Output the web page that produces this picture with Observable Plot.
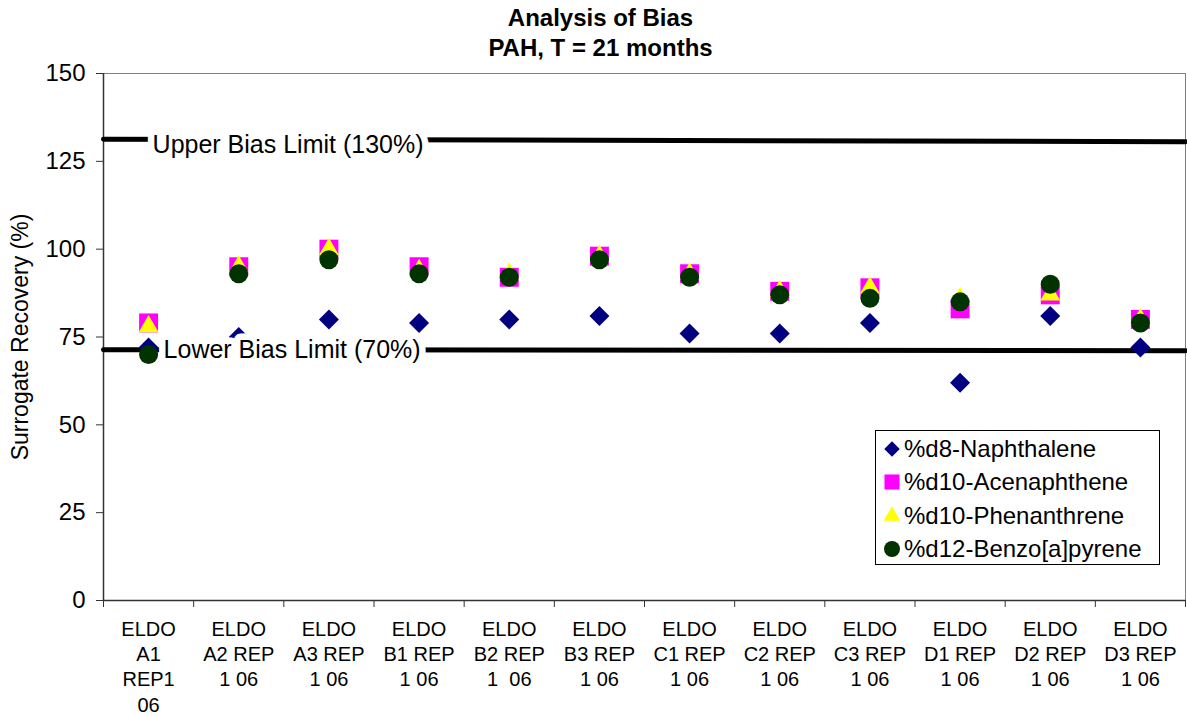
<!DOCTYPE html>
<html>
<head>
<meta charset="utf-8">
<script src="https://cdn.jsdelivr.net/npm/d3@7"></script>
<script src="https://cdn.jsdelivr.net/npm/@observablehq/plot@0.6"></script>
<style>
  html, body { margin: 0; padding: 0; background: #fff; }
  #wrap { position: relative; width: 1187px; height: 717px; font-family: "Liberation Sans", Arial, sans-serif; }
  #legend { position: absolute; left: 875px; top: 430px; width: 283px; height: 133px; border: 1px solid #000; background: #fff; box-sizing: content-box; }
  .item { position: absolute; left: 0; height: 33px; display: flex; align-items: center; font-size: 24px; color: #000; white-space: nowrap; }
  .item svg { margin-left: 6px; margin-right: 2px; }
</style>
</head>
<body>
<div id="wrap"></div>
<script>
// ---- data ----
const categories = [
  "ELDO\nA1\nREP1\n06", "ELDO\nA2 REP\n1 06", "ELDO\nA3 REP\n1 06", "ELDO\nB1 REP\n1 06",
  "ELDO\nB2 REP\n1 \u00a006", "ELDO\nB3 REP\n1 06", "ELDO\nC1 REP\n1 06", "ELDO\nC2 REP\n1 06",
  "ELDO\nC3 REP\n1 06", "ELDO\nD1 REP\n1 06", "ELDO\nD2 REP\n1 06", "ELDO\nD3 REP\n1 06"
];
const seriesNames = ["%d8-Naphthalene", "%d10-Acenaphthene", "%d10-Phenanthrene", "%d12-Benzo[a]pyrene"];
const naphthalene  = [72, 75, 80, 79, 80, 81, 76, 76, 79, 62, 81, 72];
const acenaphthene = [79, 95, 100, 95, 92, 98, 93, 88, 89, 83, 87, 80];
const phenanthrene = [78, 95, 100, 94, 93, 98, 93, 88, 89, 86, 87, 80];
const benzopyrene  = [70, 93, 97, 93, 92, 97, 92, 87, 86, 85, 90, 79];
const yTicks = [0, 25, 50, 75, 100, 125, 150];
const upperLimitLine = [131.3, 130.6];   // drawn limit line, left and right ends
const lowerLimitLine = [71.4, 71.1];
const limitLabels = ["Upper Bias Limit (130%)", "Lower Bias Limit (70%)"];
const titleLines = ["Analysis of Bias", "PAH, T = 21 months"];
const yLabel = "Surrogate Recovery (%)";

// ---- styling ----
const seriesSymbols = ["diamond2", "square", "triangle", "circle"];
const seriesColors = ["#000080", "#ff00ff", "#ffff00", "#003300"];
const seriesR = [9, 10.7, 7.4, 9.5];

const values = [naphthalene, acenaphthene, phenanthrene, benzopyrene];
const n = categories.length;
const catIdx = d3.range(n);
const boundaries = d3.range(n + 1).map(i => i - 0.5);
const upperRows = [{x: -0.5, y: upperLimitLine[0]}, {x: n - 0.5, y: upperLimitLine[1]}];
const lowerRows = [{x: -0.5, y: lowerLimitLine[0]}, {x: n - 0.5, y: lowerLimitLine[1]}];

const dotMarks = values.map((vals, k) =>
  Plot.dot(catIdx, {
    x: i => i, y: i => vals[i],
    symbol: seriesSymbols[k], r: seriesR[k],
    fill: seriesColors[k], stroke: "none"
  })
);

const chart = Plot.plot({
  width: 1187, height: 717,
  marginTop: 73, marginBottom: 117, marginLeft: 103, marginRight: 2,
  style: { fontFamily: "Liberation Sans, Arial, sans-serif", background: "#fff", color: "#000" },
  x: { domain: [-0.5, n - 0.5] },
  y: { domain: [0, 150] },
  marks: [
    Plot.frame({ stroke: "#808080" }),
    Plot.axisY({ ticks: yTicks, tickSize: 7, tickPadding: 11, fontSize: 24, label: null, stroke: "#333" }),
    Plot.axisX({ ticks: boundaries, tickSize: 7, tickFormat: () => "", label: null, stroke: "#333" }),
    Plot.ruleX([-0.5], { stroke: "#333", strokeWidth: 1.5 }),
    Plot.ruleY([0], { stroke: "#333", strokeWidth: 1.5 }),
    // x category labels
    Plot.text(catIdx, {
      x: i => i, text: i => categories[i], frameAnchor: "bottom",
      lineAnchor: "top", dy: 17, fontSize: 20, lineHeight: 1.27, fill: "#000"
    }),
    // limit lines
    Plot.line(upperRows, { x: "x", y: "y", stroke: "#000", strokeWidth: 5 }),
    Plot.line(lowerRows, { x: "x", y: "y", stroke: "#000", strokeWidth: 5 }),
    ...dotMarks,
    Plot.text([limitLabels[0]], {
      x: 0, y: upperLimitLine[0], text: d => d, textAnchor: "start", dx: 4, dy: 6,
      fontSize: 25, fill: "#000", stroke: "#fff", strokeWidth: 13
    }),
    Plot.text([limitLabels[1]], {
      x: 0, y: lowerLimitLine[0], text: d => d, textAnchor: "start", dx: 15, dy: 0,
      fontSize: 25, fill: "#000", stroke: "#fff", strokeWidth: 13
    }),
    // y-axis title
    Plot.text([yLabel], { frameAnchor: "left", textAnchor: "middle", text: d => d, rotate: -90, dx: -83, fontSize: 23, fill: "#000" }),
    // chart title
    Plot.text([titleLines.join("\n")], {
      frameAnchor: "top", text: d => d, lineAnchor: "top", dy: -69, dx: -44,
      fontSize: 24, fontWeight: "bold", lineHeight: 1.25, fill: "#000"
    })
  ]
});

const wrap = document.getElementById("wrap");
wrap.appendChild(chart);

// ---- legend ----
const legend = document.createElement("div");
legend.id = "legend";
seriesNames.forEach((name, k) => {
  const item = document.createElement("div");
  item.className = "item";
  item.style.top = (1 + k * 33.5) + "px";
  const svg = d3.create("svg").attr("width", 20).attr("height", 20);
  const symMap = { diamond2: d3.symbolDiamond2, square: d3.symbolSquare, triangle: d3.symbolTriangle, circle: d3.symbolCircle };
  const sizes = [7, 8.5, 6.2, 8];
  svg.append("path")
    .attr("transform", "translate(10,10)")
    .attr("d", d3.symbol(symMap[seriesSymbols[k]], Math.PI * sizes[k] * sizes[k])())
    .attr("fill", seriesColors[k]);
  item.appendChild(svg.node());
  const span = document.createElement("span");
  span.textContent = name;
  item.appendChild(span);
  legend.appendChild(item);
});
wrap.appendChild(legend);
</script>
</body>
</html>
